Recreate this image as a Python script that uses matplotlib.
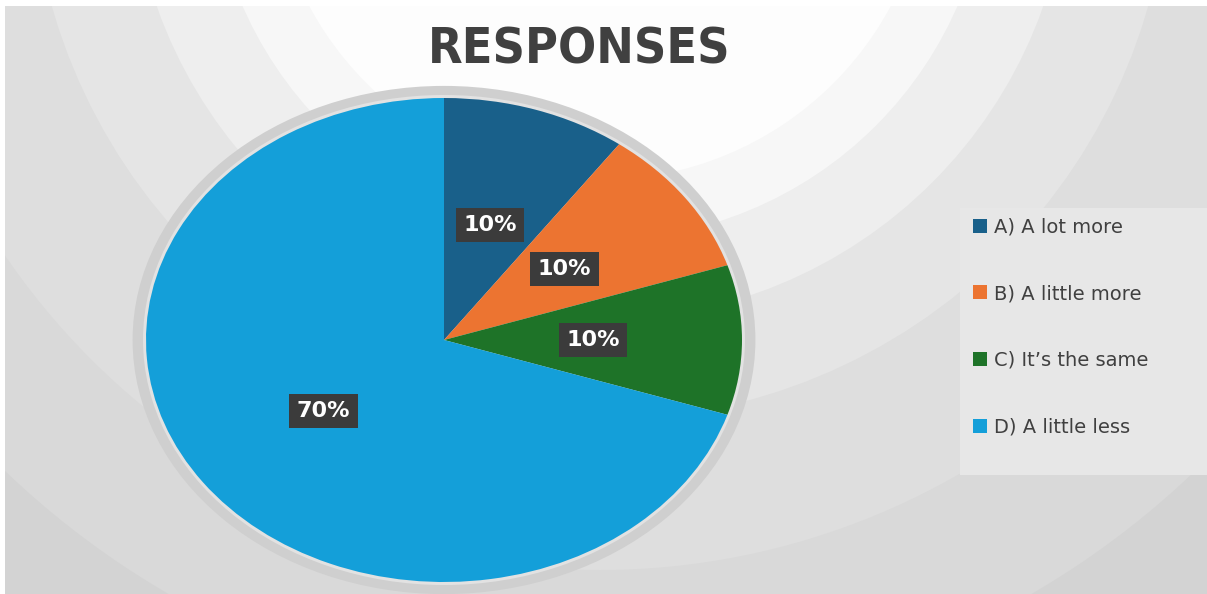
import matplotlib
matplotlib.use("Agg")
import matplotlib.pyplot as plt
from matplotlib.patches import Circle, Ellipse, Rectangle

labels = ["A) A lot more", "B) A little more", "C) It\u2019s the same", "D) A little less"]
shares = [10, 10, 10, 70]
colors = ["#19608a", "#ec7431", "#1e7328", "#149fd9"]

# concentric background bands (radius in px, grey level)
band_radii = [1100, 860, 720, 570, 470, 390, 330]
band_colors = ["#d3d3d3", "#d9d9d9", "#dedede", "#e5e5e5", "#eeeeee", "#f7f7f7", "#fdfdfd"]

W, H = 1207, 594
fig = plt.figure(figsize=(W / 100, H / 100), dpi=100)
fig.patch.set_facecolor("white")

# background picture area
bg = fig.add_axes([0, 0, 1, 1])
bg.set_xlim(0, W)
bg.set_ylim(H, 0)
bg.axis("off")
for r, c in zip(band_radii, band_colors):
    bg.add_patch(Circle((600, -150), r, facecolor=c, edgecolor="none", zorder=1))
# white margins of the screenshot
bg.add_patch(Rectangle((0, 0), W, 6, facecolor="white", edgecolor="none", zorder=2))
bg.add_patch(Rectangle((0, 0), 5, H, facecolor="white", edgecolor="none", zorder=2))

# legend panel
bg.add_patch(Rectangle((960, 208), 260, 267, facecolor="#e7e7e7", edgecolor="none", zorder=2))

bg.text(579, 50, "RESPONSES", ha="center", va="center", fontsize=36,
        fontweight="bold", fontstretch="condensed", color="#404040",
        family=["DejaVu Sans"], zorder=3)

# pie, stretched into an ellipse (radius 298 x 242 px, centre at 444, 340)
ax = fig.add_axes([(146 - 0.1 * 298) / W, (12 - 0.1 * 242) / H, 596 * 1.1 / W, 484 * 1.1 / H])
ax.add_patch(Ellipse((0, 0), 2.09, 2.1, facecolor="#cfcfcf", edgecolor="none", zorder=0))
ax.add_patch(Ellipse((0, 0), 2.02, 2.025, facecolor="#e2e2e2", edgecolor="none", zorder=0))
wedges, texts, autotexts = ax.pie(
    shares, colors=colors, startangle=90, counterclock=False,
    autopct="%d%%", pctdistance=0.5,
    textprops={"color": "white", "fontsize": 16, "fontweight": "bold"},
    wedgeprops={"linewidth": 0},
)
for t in autotexts:
    t.set_bbox(dict(boxstyle="square,pad=0.33", facecolor="#3b3b3b", edgecolor="none"))
ax.set_aspect("auto")
ax.set_xlim(-1.1, 1.1)
ax.set_ylim(-1.1, 1.1)
ax.axis("off")

fig.legend(wedges, labels, loc="upper left", bbox_to_anchor=(955 / W, 1 - 200 / H),
           frameon=False, fontsize=14, labelcolor="#404040",
           handlelength=0.75, handleheight=0.75, handletextpad=0.35, labelspacing=2.45)

fig.savefig("out.png", dpi=100)
